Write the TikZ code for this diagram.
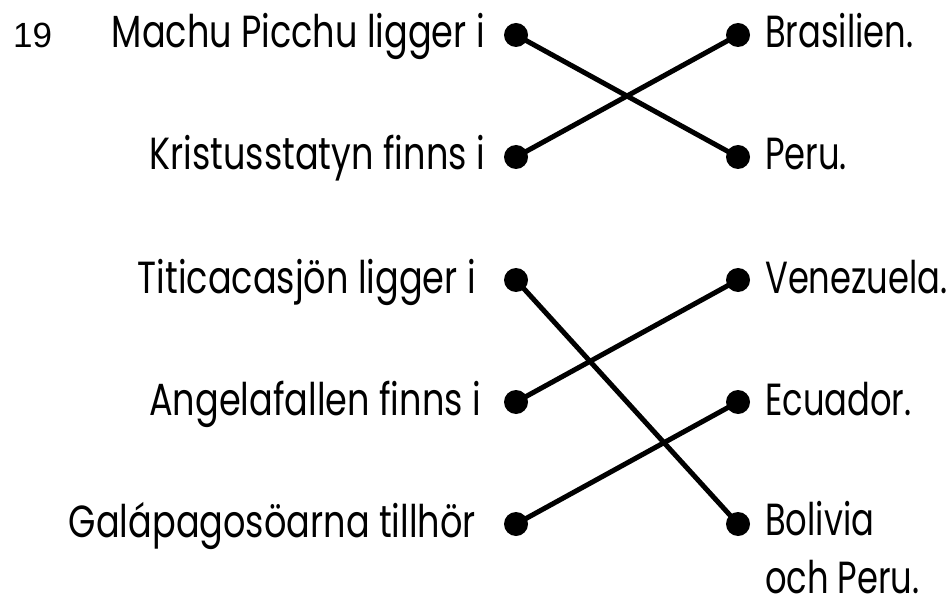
\documentclass[tikz,border=0pt]{standalone}
\usepackage{fontspec}
\setmainfont{Poppins}[FakeStretch=0.78]
\newfontfamily\rfont{Poppins}[FakeStretch=0.75]
\newfontfamily\numfont{Liberation Sans}
\begin{document}
\begin{tikzpicture}[x=1pt,y=-1pt,
  lbl/.style={font=\fontsize{45}{61}\selectfont, inner sep=0pt, text=black},
  rlbl/.style={font=\rfont\fontsize{45}{58}\selectfont, inner sep=0pt, text=black, anchor=base west, align=left},
  dotpt/.style={circle, fill=black, minimum size=24pt, inner sep=0pt},
  link/.style={line width=5pt, black}]
\useasboundingbox (0,0) rectangle (949,601);
\node[font=\numfont\fontsize{35}{40}\selectfont, inner sep=0pt, anchor=base west] (num) at (13,48) {19};
% left dots
\node[dotpt] (l1) at (516,35) {};
\node[dotpt] (l2) at (516,157) {};
\node[dotpt] (l3) at (516,280) {};
\node[dotpt] (l4) at (516,402) {};
\node[dotpt] (l5) at (516,524) {};
% right dots
\node[dotpt] (r1) at (738,35) {};
\node[dotpt] (r2) at (738,157) {};
\node[dotpt] (r3) at (738,280) {};
\node[dotpt] (r4) at (738,402) {};
\node[dotpt] (r5) at (738,524) {};
% left labels
\node[lbl, anchor=base east] (t1) at (485,48) {Machu Picchu ligger i};
\node[lbl, anchor=base east] (t2) at (485,170) {Kristusstatyn finns i};
\node[lbl, anchor=base east] (t3) at (476,293) {Titicacasjön ligger i};
\node[lbl, anchor=base east] (t4) at (481,415) {Angelafallen finns i};
\node[lbl, anchor=base east] (t5) at (476,537) {Galápagosöarna tillhör};
% right labels
\node[rlbl] (u1) at (765,48) {Brasilien.};
\node[rlbl] (u2) at (765,170) {Peru.};
\node[rlbl] (u3) at (765,293) {Venezuela.};
\node[rlbl] (u4) at (765,415) {Ecuador.};
\node[rlbl, text depth=0pt] (u5) at (765,593) {Bolivia\\och Peru.};
% connectors
\draw[link] (l1.center) -- (r2.center);
\draw[link] (l2.center) -- (r1.center);
\draw[link] (l3.center) -- (r5.center);
\draw[link] (l4.center) -- (r3.center);
\draw[link] (l5.center) -- (r4.center);
\end{tikzpicture}
\end{document}
